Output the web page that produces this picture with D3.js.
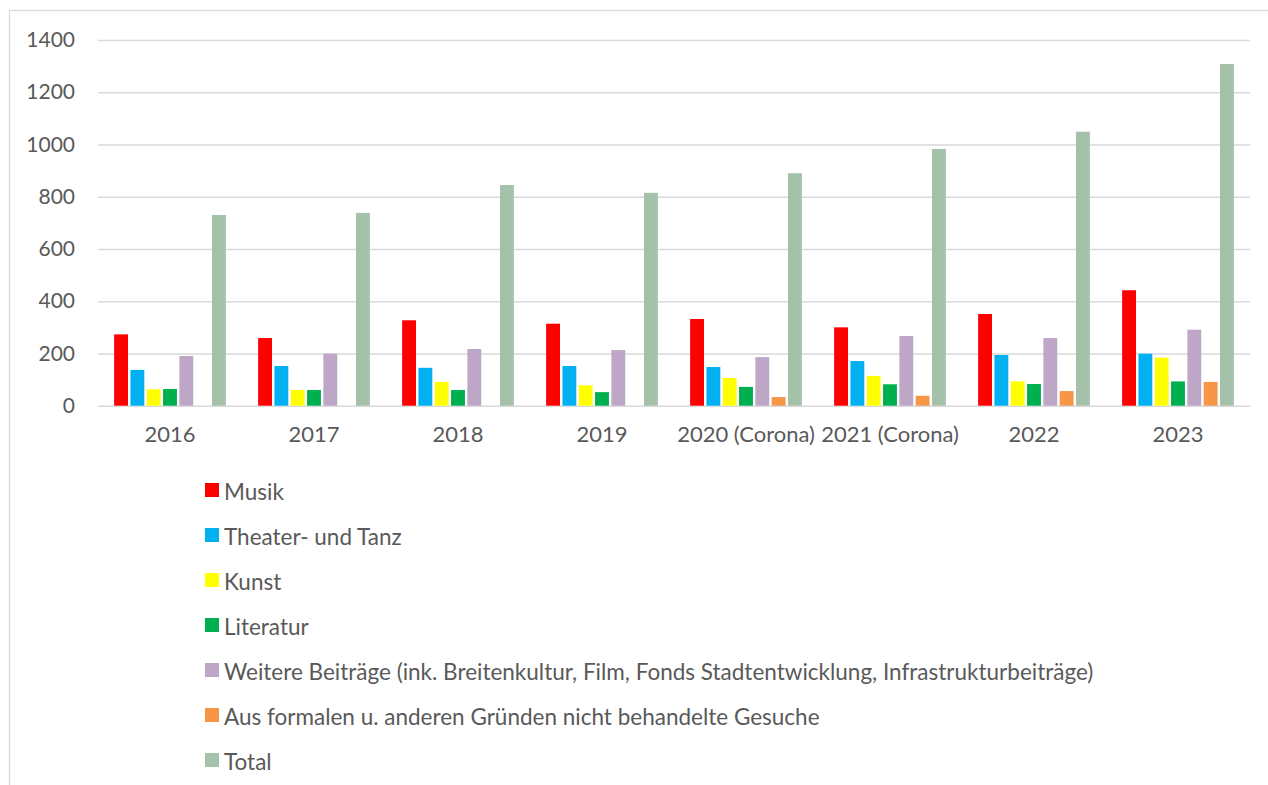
<!DOCTYPE html>
<html>
<head>
<meta charset="utf-8">
<script src="https://cdn.jsdelivr.net/npm/d3@7"></script>
<style>
  body { margin: 0; background: #fff; }
  text { font-family: Lato, "Open Sans", sans-serif; fill: #595959; }
</style>
</head>
<body>
<div id="chart"></div>
<script>
// Categories (years)
var years = ['2016', '2017', '2018', '2019', '2020 (Corona)', '2021 (Corona)', '2022', '2023'];

// Series names
var seriesNames = [
    'Musik',
    'Theater- und Tanz',
    'Kunst',
    'Literatur',
    'Weitere Beiträge (ink. Breitenkultur, Film, Fonds Stadtentwicklung, Infrastrukturbeiträge)',
    'Aus formalen u. anderen Gründen nicht behandelte Gesuche',
    'Total'
];

var seriesColors = ['#ff0000', '#00b0f0', '#ffff00', '#00b050', '#bea6c7', '#f79646', '#a6c1a9'];

// Values per series, one per year
var musik = [273, 259, 327, 314, 332, 300, 351, 442];
var theater = [137, 152, 145, 152, 148, 171, 194, 199];
var kunst = [63, 60, 91, 78, 106, 114, 93, 184];
var literatur = [64, 60, 60, 52, 72, 82, 83, 93];
var weitere = [190, 199, 217, 213, 186, 267, 259, 291];
var formal = [0, 0, 0, 0, 33, 38, 56, 91];
var total = [730, 738, 845, 815, 890, 983, 1049, 1308];

var yTicks = [0, 200, 400, 600, 800, 1000, 1200, 1400];

var seriesValues = [musik, theater, kunst, literatur, weitere, formal, total];

// svg size
var svgWidth = 1268;
var svgHeight = 785;

var plot = { left: 98, right: 1250, top: 40, bottom: 405.7 };

var svg = d3.select('#chart')
    .append('svg')
    .attr('width', svgWidth)
    .attr('height', svgHeight);

// chart frame (cut off at right/bottom)
svg.append('rect')
    .attr('x', 9.5)
    .attr('y', 10.5)
    .attr('width', svgWidth + 20)
    .attr('height', svgHeight + 20)
    .attr('fill', 'none')
    .attr('stroke', '#d9d9d9')
    .attr('stroke-width', 1.3);

// Scales
var xScale = d3.scaleBand()
    .domain(years)
    .range([plot.left, plot.right])
    .paddingInner(0.19)
    .paddingOuter(0.095);

var xInner = d3.scaleBand()
    .domain(d3.range(seriesNames.length))
    .range([0, xScale.bandwidth()])
    .padding(0.15);

var yScale = d3.scaleLinear()
    .domain([0, 1400])
    .range([plot.bottom, plot.top]);

// Gridlines + y labels
var yAxis = d3.axisLeft(yScale)
    .tickValues(yTicks)
    .tickFormat(d3.format('d'))
    .tickSize(-(plot.right - plot.left))
    .tickPadding(23);

var yG = svg.append('g')
    .attr('transform', `translate(${plot.left}, 0)`)
    .call(yAxis);

yG.select('.domain').remove();
yG.selectAll('.tick line')
    .attr('stroke', '#d9d9d9')
    .attr('stroke-width', 1.5);
yG.selectAll('.tick text')
    .attr('font-size', '21px')
    .style('font-family', 'Lato, sans-serif')
    .attr('fill', '#595959');

// Bars
var groups = svg.append('g')
    .selectAll('g')
    .data(years)
    .enter()
    .append('g')
    .attr('transform', d => `translate(${xScale(d)}, 0)`);

groups.selectAll('rect')
    .data((d, i) => seriesValues.map((vals, s) => ({ s: s, v: vals[i] })))
    .enter()
    .append('rect')
    .attr('x', d => xInner(d.s))
    .attr('width', xInner.bandwidth())
    .attr('y', d => yScale(d.v))
    .attr('height', d => yScale(0) - yScale(d.v))
    .attr('fill', d => seriesColors[d.s]);

// X axis labels
var xAxis = d3.axisBottom(xScale).tickSize(0).tickPadding(21);
var xG = svg.append('g')
    .attr('transform', `translate(0, ${plot.bottom})`)
    .call(xAxis);
xG.select('.domain').remove();
xG.selectAll('.tick text')
    .attr('font-size', '22px')
    .style('font-family', 'Lato, sans-serif')
    .attr('fill', '#595959');

// Legend
var legend = svg.append('g')
    .selectAll('g')
    .data(seriesNames)
    .enter()
    .append('g')
    .attr('transform', (d, i) => `translate(205, ${490 + i * 45})`);

legend.append('rect')
    .attr('x', 0)
    .attr('y', -7)
    .attr('width', 14)
    .attr('height', 14)
    .attr('fill', (d, i) => seriesColors[i]);

legend.append('text')
    .attr('x', 19)
    .attr('y', 1)
    .attr('dominant-baseline', 'central')
    .attr('font-size', '22.5px')
    .text(d => d);
</script>
</body>
</html>
